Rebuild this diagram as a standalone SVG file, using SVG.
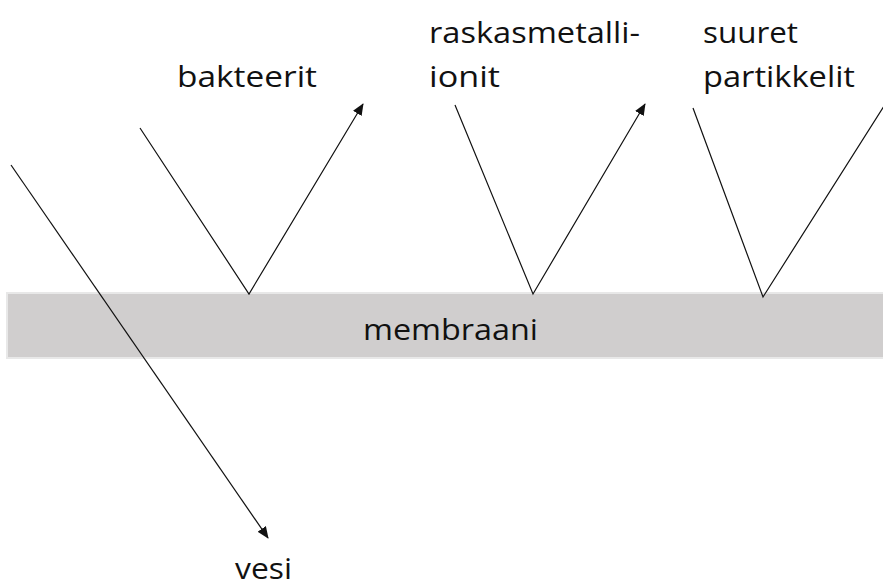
<svg xmlns="http://www.w3.org/2000/svg" width="883" height="582" viewBox="0 0 883 582">
  <style>
    .lbl { font-family: "Open Sans", "Liberation Sans", sans-serif; font-size: 29px; fill: #111; }
    .flow { fill: none; stroke: #111; stroke-width: 1.2; }
  </style>
  <defs>
    <marker id="tip" viewBox="0 0 12 10" refX="11" refY="5" markerWidth="12" markerHeight="10" markerUnits="userSpaceOnUse" orient="auto">
      <path d="M0,0 L12,5 L0,10 Z" fill="#111"/>
    </marker>
  </defs>
  <rect width="883" height="582" fill="#fff"/>

  <g id="membrane">
    <rect x="7" y="293" width="880" height="65" fill="#d0cece" stroke="#e8e8e8" stroke-width="2"/>
    <text class="lbl" x="363" y="340" font-size="31" textLength="175" lengthAdjust="spacingAndGlyphs">membraani</text>
  </g>

  <g id="connectors">
    <path class="flow" d="M11,165 L268,538" marker-end="url(#tip)"/>
    <path class="flow" d="M140,128 L249,294 L363,104" marker-end="url(#tip)"/>
    <path class="flow" d="M455,105 L533,294 L645,104" marker-end="url(#tip)"/>
    <path class="flow" d="M693,108 L763,297 L884,106"/>
  </g>

  <g id="bakteerit">
    <text class="lbl" x="177" y="87" textLength="140" lengthAdjust="spacingAndGlyphs">bakteerit</text>
  </g>
  <g id="raskasmetalli-ionit">
    <text class="lbl" x="429" y="43" textLength="211" lengthAdjust="spacingAndGlyphs">raskasmetalli-</text>
    <text class="lbl" x="429" y="87" textLength="71" lengthAdjust="spacingAndGlyphs">ionit</text>
  </g>
  <g id="suuret-partikkelit">
    <text class="lbl" x="703" y="43" textLength="95" lengthAdjust="spacingAndGlyphs">suuret</text>
    <text class="lbl" x="703" y="87" textLength="152" lengthAdjust="spacingAndGlyphs">partikkelit</text>
  </g>
  <g id="vesi">
    <text class="lbl" x="235" y="579" textLength="57" lengthAdjust="spacingAndGlyphs">vesi</text>
  </g>
</svg>
